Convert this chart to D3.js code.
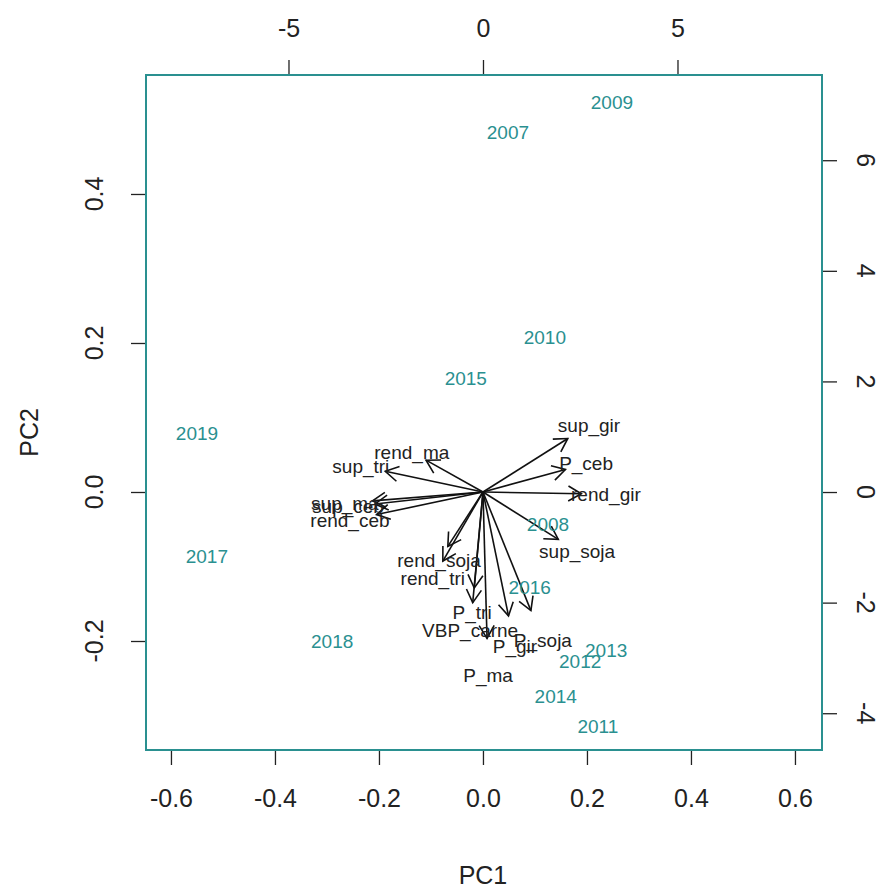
<!DOCTYPE html>
<html>
<head>
<meta charset="utf-8">
<script src="https://cdn.jsdelivr.net/npm/d3@7"></script>
<style>
  body { margin: 0; background: #fff; }
  svg { font-family: "Liberation Sans", Arial, Helvetica, sans-serif; }
</style>
</head>
<body>
<div id="chart" style="width:882px;height:890px"></div>
<script>
// observations (years) in PC scores
const years = ["2007","2008","2009","2010","2011","2012","2013","2014","2015","2016","2017","2018","2019"];
const pc1 = [0.048, 0.125, 0.248, 0.119, 0.221, 0.187, 0.237, 0.140, -0.033, 0.090, -0.531, -0.290, -0.550];
const pc2 = [0.482, -0.043, 0.523, 0.207, -0.315, -0.227, -0.213, -0.274, 0.152, -0.128, -0.086, -0.200, 0.079];

// variables (loadings on the secondary axes)
const vars = ["sup_gir","P_ceb","rend_gir","sup_soja","rend_ma","sup_tri","sup_ma","sup_ceb","rend_ceb",
              "rend_soja","rend_tri","P_tri","VBP_carne","P_gir","P_soja","P_ma"];
const load1 = [2.725, 2.65, 3.16, 2.42, -1.83, -3.14, -3.55, -3.47, -3.42, -1.13, -1.29, -0.28, -0.33, 0.82, 1.54, 0.13];
const load2 = [1.21, 0.51, -0.04, -1.07, 0.72, 0.47, -0.20, -0.27, -0.51, -1.23, -1.56, -2.17, -2.50, -2.80, -2.68, -3.31];

const pc1Ticks = [-0.6, -0.4, -0.2, 0.0, 0.2, 0.4, 0.6];
const pc2Ticks = [-0.2, 0.0, 0.2, 0.4];
const topTicks = [-5, 0, 5];
const rightTicks = [-4, -2, 0, 2, 4, 6];

const width = 882, height = 890;
const margin = {left: 146, right: 60, top: 75, bottom: 140};
const teal = "#2a9090";

const svg = d3.select("#chart").append("svg")
  .attr("width", width).attr("height", height);

const x = d3.scaleLinear().domain([-0.648, 0.652]).range([margin.left, width - margin.right]);
const y = d3.scaleLinear().domain([-0.3463, 0.5597]).range([height - margin.bottom, margin.top]);
const x2 = d3.scaleLinear().domain([-8.663, 8.715]).range([margin.left, width - margin.right]);
const y2 = d3.scaleLinear().domain([-4.665, 7.541]).range([height - margin.bottom, margin.top]);

const fmt1 = d => d3.format(".1f")(d).replace("\u2212", "-");
const fmt0 = d => String(d);
const tick = 15;

// axes (tick marks only, labels placed R-style)
svg.append("g").attr("transform", `translate(0,${height - margin.bottom})`)
  .call(d3.axisBottom(x).tickValues(pc1Ticks).tickSize(tick).tickSizeOuter(0).tickFormat(fmt1).tickPadding(24))
  .call(g => g.select(".domain").remove());
svg.append("g").attr("transform", `translate(0,${margin.top})`)
  .call(d3.axisTop(x2).tickValues(topTicks).tickSize(tick).tickSizeOuter(0).tickFormat(fmt0).tickPadding(23))
  .call(g => g.select(".domain").remove());
svg.append("g").attr("transform", `translate(${margin.left},0)`)
  .call(d3.axisLeft(y).tickValues(pc2Ticks).tickSize(tick).tickSizeOuter(0).tickFormat(""))
  .call(g => g.select(".domain").remove());
svg.append("g").attr("transform", `translate(${width - margin.right},0)`)
  .call(d3.axisRight(y2).tickValues(rightTicks).tickSize(tick).tickSizeOuter(0).tickFormat(""))
  .call(g => g.select(".domain").remove());

svg.selectAll(".tick line").attr("stroke", "#222").attr("stroke-width", 1.3);
svg.selectAll(".tick text").attr("font-size", 25).attr("fill", "#222")
  .attr("font-family", "Liberation Sans, Arial, sans-serif");

svg.append("g").selectAll("text").data(pc2Ticks).join("text")
  .attr("transform", d => `translate(94,${y(d)}) rotate(-90)`)
  .attr("text-anchor", "middle").attr("dominant-baseline", "central")
  .attr("font-size", 25).attr("fill", "#222").text(fmt1);

svg.append("g").selectAll("text").data(rightTicks).join("text")
  .attr("transform", d => `translate(866,${y2(d)}) rotate(90)`)
  .attr("text-anchor", "middle").attr("dominant-baseline", "central")
  .attr("font-size", 25).attr("fill", "#222").text(fmt0);

// axis titles
svg.append("text").attr("x", x(0)).attr("y", 884)
  .attr("text-anchor", "middle").attr("font-size", 25).attr("fill", "#222").text("PC1");
svg.append("text").attr("transform", `translate(38,${y(0.08)}) rotate(-90)`)
  .attr("text-anchor", "middle").attr("font-size", 25).attr("fill", "#222").text("PC2");

// arrows
const arrows = svg.append("g").attr("stroke", "#111").attr("stroke-width", 1.6).attr("fill", "none");
const head = 15, ang = Math.PI / 6;
vars.forEach((v, i) => {
  const x0 = x2(0), y0 = y2(0);
  const x1 = x2(0.8 * load1[i]), y1 = y2(0.8 * load2[i]);
  const a = Math.atan2(y1 - y0, x1 - x0);
  arrows.append("line").attr("x1", x0).attr("y1", y0).attr("x2", x1).attr("y2", y1);
  arrows.append("path").attr("d",
    `M${x1 - head * Math.cos(a - ang)},${y1 - head * Math.sin(a - ang)}L${x1},${y1}` +
    `L${x1 - head * Math.cos(a + ang)},${y1 - head * Math.sin(a + ang)}`);
});

// year labels
svg.append("g").selectAll("text").data(years).join("text")
  .attr("x", (d, i) => x(pc1[i])).attr("y", (d, i) => y(pc2[i]))
  .attr("text-anchor", "middle").attr("dominant-baseline", "central")
  .attr("font-size", 19).attr("fill", teal).text(d => d);

// variable labels
svg.append("g").selectAll("text").data(vars).join("text")
  .attr("x", (d, i) => x2(load1[i])).attr("y", (d, i) => y2(load2[i]))
  .attr("text-anchor", "middle").attr("dominant-baseline", "central")
  .attr("font-size", 19).attr("fill", "#222").text(d => d);

// box
svg.append("rect")
  .attr("x", margin.left).attr("y", margin.top)
  .attr("width", width - margin.left - margin.right)
  .attr("height", height - margin.top - margin.bottom)
  .attr("fill", "none").attr("stroke", teal).attr("stroke-width", 2);
</script>
</body>
</html>
